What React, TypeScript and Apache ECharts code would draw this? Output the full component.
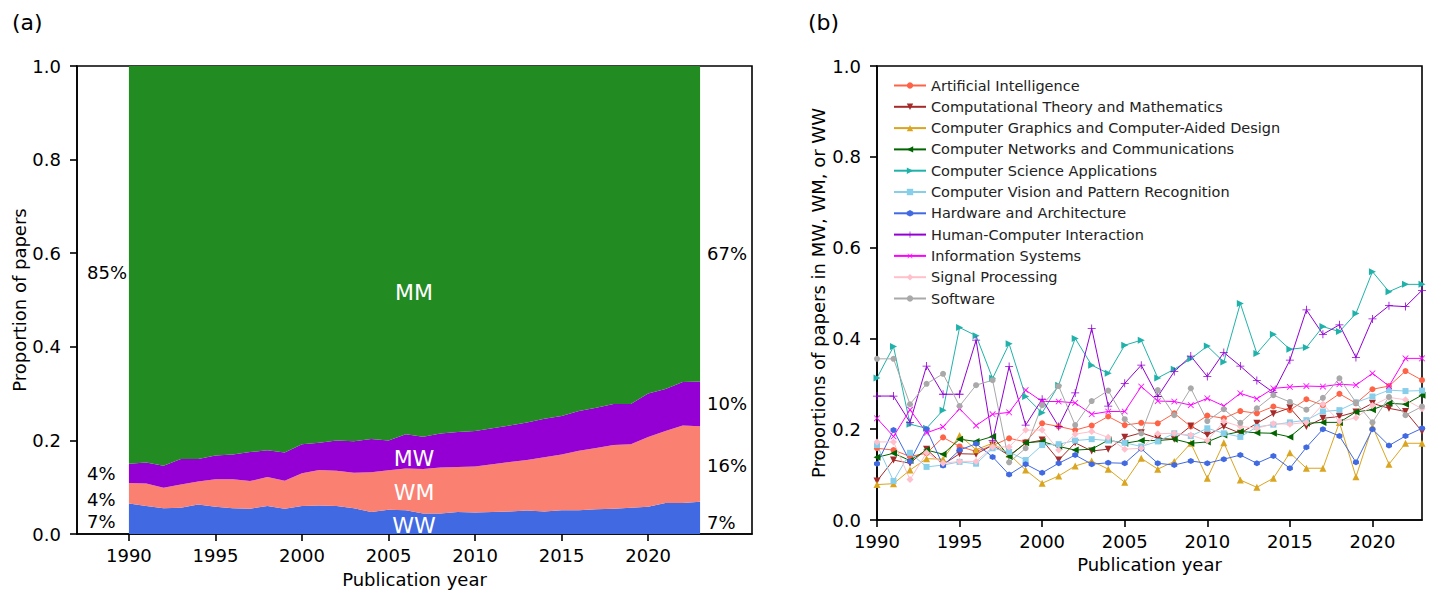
import React, { useEffect, useRef } from "react";
import * as echarts from "echarts";

const FONT = "DejaVu Sans";

const YEARS = [1990, 1991, 1992, 1993, 1994, 1995, 1996, 1997, 1998, 1999, 2000, 2001, 2002, 2003, 2004, 2005, 2006,
  2007, 2008, 2009, 2010, 2011, 2012, 2013, 2014, 2015, 2016, 2017, 2018, 2019, 2020, 2021, 2022, 2023];

// axis range of panel (a), years shown along its x axis (with blank margins)
const LEFT_AXIS_YEARS = [1987, 1988, 1989, ...YEARS, 2024, 2025, 2026];

const X_TICKS = [1990, 1995, 2000, 2005, 2010, 2015, 2020];

// Panel (a): shares of papers by author gender pair
const WW = [0.065, 0.06, 0.055, 0.056, 0.063, 0.058, 0.055, 0.054, 0.06, 0.054, 0.06, 0.061, 0.06, 0.055, 0.047, 0.052, 0.051,
  0.044, 0.044, 0.047, 0.046, 0.047, 0.048, 0.05, 0.048, 0.051, 0.051, 0.053, 0.054, 0.056, 0.058, 0.066, 0.066, 0.069];
const WM = [0.044, 0.048, 0.044, 0.05, 0.049, 0.059, 0.062, 0.059, 0.062, 0.06, 0.07, 0.076, 0.075, 0.076, 0.085, 0.084, 0.089,
  0.095, 0.098, 0.096, 0.098, 0.102, 0.106, 0.108, 0.116, 0.119, 0.127, 0.131, 0.136, 0.136, 0.149, 0.154, 0.166, 0.161];
const MW = [0.041, 0.045, 0.047, 0.054, 0.048, 0.051, 0.053, 0.062, 0.057, 0.06, 0.062, 0.058, 0.065, 0.067, 0.071, 0.064, 0.073,
  0.069, 0.073, 0.075, 0.076, 0.077, 0.078, 0.08, 0.082, 0.082, 0.085, 0.086, 0.088, 0.086, 0.093, 0.09, 0.093, 0.096];
const MM = [0.85, 0.847, 0.854, 0.84, 0.84, 0.832, 0.83, 0.825, 0.821, 0.826, 0.808, 0.805, 0.8, 0.802, 0.797, 0.8, 0.787,
  0.792, 0.785, 0.782, 0.78, 0.774, 0.768, 0.762, 0.754, 0.748, 0.737, 0.73, 0.722, 0.722, 0.7, 0.69, 0.675, 0.674];

// Panel (b): proportion of papers in MW, WM or WW per field
const AI = [0.158, 0.154, 0.14, 0.147, 0.182, 0.162, 0.151, 0.164, 0.18, 0.172, 0.213, 0.206, 0.198, 0.208, 0.228, 0.209, 0.214,
  0.213, 0.235, 0.206, 0.23, 0.224, 0.24, 0.235, 0.25, 0.242, 0.266, 0.253, 0.278, 0.257, 0.288, 0.295, 0.328, 0.308];
const CTM = [0.086, 0.132, 0.125, 0.156, 0.122, 0.146, 0.145, 0.165, 0.142, 0.169, 0.176, 0.132, 0.17, 0.152, 0.156, 0.182, 0.192,
  0.18, 0.178, 0.207, 0.187, 0.206, 0.191, 0.213, 0.234, 0.247, 0.206, 0.224, 0.228, 0.238, 0.257, 0.246, 0.239, 0.195];
const CGCAD = [0.078, 0.08, 0.11, 0.135, 0.134, 0.186, 0.155, 0.169, 0.145, 0.11, 0.081, 0.097, 0.119, 0.13, 0.112, 0.083, 0.136,
  0.112, 0.129, 0.169, 0.092, 0.17, 0.088, 0.072, 0.092, 0.148, 0.114, 0.114, 0.215, 0.095, 0.206, 0.123, 0.169, 0.169];
const CNC = [0.138, 0.147, 0.131, 0.154, 0.145, 0.178, 0.173, 0.184, 0.14, 0.17, 0.173, 0.162, 0.154, 0.156, 0.176, 0.169, 0.175,
  0.175, 0.178, 0.169, 0.172, 0.187, 0.195, 0.192, 0.191, 0.183, 0.213, 0.215, 0.215, 0.238, 0.243, 0.257, 0.255, 0.275];
const CSA = [0.313, 0.382, 0.211, 0.202, 0.242, 0.424, 0.406, 0.312, 0.388, 0.272, 0.236, 0.297, 0.4, 0.341, 0.323, 0.385, 0.396,
  0.313, 0.332, 0.355, 0.383, 0.348, 0.477, 0.367, 0.409, 0.376, 0.38, 0.426, 0.415, 0.455, 0.547, 0.503, 0.519, 0.519];
const CVPR = [0.165, 0.086, 0.148, 0.117, 0.121, 0.128, 0.124, 0.158, 0.15, 0.132, 0.165, 0.167, 0.175, 0.178, 0.175, 0.17, 0.162,
  0.173, 0.191, 0.185, 0.202, 0.191, 0.183, 0.205, 0.21, 0.215, 0.22, 0.239, 0.242, 0.259, 0.272, 0.286, 0.284, 0.285];
const HA = [0.124, 0.198, 0.129, 0.2, 0.12, 0.154, 0.168, 0.139, 0.1, 0.123, 0.104, 0.125, 0.143, 0.123, 0.126, 0.125, 0.157,
  0.125, 0.121, 0.13, 0.125, 0.134, 0.143, 0.125, 0.141, 0.114, 0.16, 0.2, 0.185, 0.127, 0.2, 0.164, 0.185, 0.202];
const HCI = [0.273, 0.273, 0.215, 0.339, 0.277, 0.277, 0.396, 0.175, 0.338, 0.209, 0.266, 0.206, 0.28, 0.422, 0.251, 0.301, 0.341,
  0.272, 0.327, 0.361, 0.316, 0.369, 0.339, 0.307, 0.281, 0.352, 0.463, 0.409, 0.43, 0.358, 0.443, 0.472, 0.47, 0.506];
const IS = [0.224, 0.184, 0.243, 0.192, 0.205, 0.245, 0.208, 0.233, 0.237, 0.286, 0.261, 0.261, 0.258, 0.233, 0.239, 0.239, 0.294,
  0.262, 0.261, 0.253, 0.268, 0.251, 0.279, 0.267, 0.29, 0.293, 0.295, 0.294, 0.299, 0.297, 0.323, 0.295, 0.356, 0.356];
const SP = [0.172, 0.172, 0.089, 0.148, 0.125, 0.129, 0.129, 0.161, 0.161, 0.198, 0.198, 0.154, 0.189, 0.195, 0.182, 0.156, 0.158,
  0.19, 0.191, 0.187, 0.175, 0.217, 0.206, 0.202, 0.212, 0.211, 0.215, 0.255, 0.217, 0.225, 0.252, 0.27, 0.265, 0.245];
const SOFTWARE = [0.355, 0.355, 0.255, 0.3, 0.322, 0.251, 0.297, 0.308, 0.127, 0.158, 0.253, 0.295, 0.209, 0.262, 0.285, 0.222, 0.191,
  0.286, 0.231, 0.29, 0.218, 0.244, 0.214, 0.246, 0.275, 0.26, 0.243, 0.269, 0.312, 0.259, 0.215, 0.271, 0.231, 0.25];

const HEX = "path://M0,-1L0.866,-0.5L0.866,0.5L0,1L-0.866,0.5L-0.866,-0.5Z";
const PLUS = "path://M-0.1,-1H0.1V-0.1H1V0.1H0.1V1H-0.1V0.1H-1V-0.1H-0.1Z";

const FIELDS = [
  { name: "Artificial Intelligence", values: AI, color: "#FF6347", symbol: "circle", rot: 0, size: 6 },
  { name: "Computational Theory and Mathematics", values: CTM, color: "#A52A2A", symbol: "triangle", rot: 180, size: 7 },
  { name: "Computer Graphics and Computer-Aided Design", values: CGCAD, color: "#DAA520", symbol: "triangle", rot: 0, size: 7 },
  { name: "Computer Networks and Communications", values: CNC, color: "#006400", symbol: "triangle", rot: 90, size: 7 },
  { name: "Computer Science Applications", values: CSA, color: "#20B2AA", symbol: "triangle", rot: -90, size: 7 },
  { name: "Computer Vision and Pattern Recognition", values: CVPR, color: "#87CEEB", symbol: "rect", rot: 0, size: 6 },
  { name: "Hardware and Architecture", values: HA, color: "#4169E1", symbol: HEX, rot: 0, size: 6 },
  { name: "Human-Computer Interaction", values: HCI, color: "#9400D3", symbol: PLUS, rot: 0, size: 8 },
  { name: "Information Systems", values: IS, color: "#FF00FF", symbol: PLUS, rot: 45, size: 8 },
  { name: "Signal Processing", values: SP, color: "#FFC0CB", symbol: "diamond", rot: 0, size: 7 },
  { name: "Software", values: SOFTWARE, color: "#A9A9A9", symbol: "circle", rot: 0, size: 6 },
];

const STACK = [
  { name: "WW", values: WW, color: "#4169E1" },
  { name: "WM", values: WM, color: "#FA8072" },
  { name: "MW", values: MW, color: "#9400D3" },
  { name: "MM", values: MM, color: "#228B22" },
];

const LEFT_ANN = [
  { text: "85%", y: 272 },
  { text: "4%", y: 473 },
  { text: "4%", y: 499 },
  { text: "7%", y: 521 },
];
const RIGHT_ANN = [
  { text: "67%", y: 253 },
  { text: "10%", y: 403 },
  { text: "16%", y: 465 },
  { text: "7%", y: 522 },
];
const INNER_ANN = [
  { text: "MM", y: 292 },
  { text: "MW", y: 458 },
  { text: "WM", y: 492 },
  { text: "WW", y: 525 },
];

const pairs = (vals: number[]) => YEARS.map((y, i) => [y, vals[i]]);
const catPairs = (vals: number[]) => YEARS.map((y, i) => [String(y), vals[i]]);

const axisLine = { show: true, onZero: false, lineStyle: { color: "#000", width: 1.6 } };
const axisTick = { show: true, inside: false, length: 7, lineStyle: { color: "#000", width: 1.6 } };
const labelStyle = { color: "#000", fontSize: 18, fontFamily: FONT };
const isTickYear = (_i: number, v: string) => X_TICKS.indexOf(Number(v)) >= 0;

export default function App() {
  const ref = useRef<HTMLDivElement>(null);

  useEffect(() => {
    document.body.style.margin = "0";
    if (!ref.current) return;
    const chart = echarts.init(ref.current, undefined, { renderer: "svg" });

    const textEl = (text: string, x: number, y: number, size: number, fill: string, align = "left") => ({
      type: "text",
      x,
      y,
      silent: true,
      z: 100,
      style: { text, fill, fontSize: size, fontFamily: FONT, align, verticalAlign: "middle" },
    });

    const option: any = {
      animation: false,
      backgroundColor: "#fff",
      grid: [
        { left: 77, top: 66, width: 675, height: 468, show: true, borderColor: "#000", borderWidth: 1.6, backgroundColor: "transparent" },
        { left: 877, top: 66, width: 545, height: 454, show: true, borderColor: "#000", borderWidth: 1.6, backgroundColor: "transparent" },
      ],
      xAxis: [
        {
          type: "category", gridIndex: 0, data: LEFT_AXIS_YEARS.map(String), boundaryGap: false,
          axisLine, splitLine: { show: false },
          axisTick: { ...axisTick, interval: isTickYear },
          axisLabel: { ...labelStyle, margin: 12, interval: isTickYear },
          name: "Publication year", nameLocation: "middle", nameGap: 36,
          nameTextStyle: { color: "#000", fontSize: 18, fontFamily: FONT },
        },
        {
          type: "value", gridIndex: 1, min: 1990, max: 2023, interval: 5,
          axisLine, splitLine: { show: false }, axisTick,
          axisLabel: { ...labelStyle, margin: 12, showMaxLabel: false, formatter: (v: number) => String(v) },
          name: "Publication year", nameLocation: "middle", nameGap: 35,
          nameTextStyle: { color: "#000", fontSize: 18, fontFamily: FONT },
        },
      ],
      yAxis: [
        {
          type: "value", gridIndex: 0, min: 0, max: 1, interval: 0.2,
          axisLine, axisTick, splitLine: { show: false },
          axisLabel: { ...labelStyle, margin: 16, formatter: (v: number) => v.toFixed(1) },
          name: "Proportion of papers", nameLocation: "middle", nameGap: 48,
          nameTextStyle: { color: "#000", fontSize: 18, fontFamily: FONT },
        },
        {
          type: "value", gridIndex: 1, min: 0, max: 1, interval: 0.2,
          axisLine, axisTick, splitLine: { show: false },
          axisLabel: { ...labelStyle, margin: 16, formatter: (v: number) => v.toFixed(1) },
          name: "Proportions of papers in MW, WM, or WW", nameLocation: "middle", nameGap: 50,
          nameTextStyle: { color: "#000", fontSize: 18, fontFamily: FONT },
        },
      ],
      legend: {
        orient: "vertical",
        left: 893,
        top: 78,
        itemWidth: 32,
        itemHeight: 8,
        itemGap: 6.3,
        padding: 0,
        data: FIELDS.map((f) => f.name),
        textStyle: { color: "#222", fontSize: 14.5, fontFamily: FONT, lineHeight: 14 },
      },
      series: [
        ...STACK.map((s) => ({
          type: "line",
          name: s.name,
          xAxisIndex: 0,
          yAxisIndex: 0,
          stack: "total",
          data: catPairs(s.values),
          showSymbol: false,
          symbol: "none",
          lineStyle: { width: 0 },
          areaStyle: { color: s.color, opacity: 1 },
          itemStyle: { color: s.color },
          silent: true,
        })),
        ...FIELDS.map((f) => ({
          type: "line",
          name: f.name,
          xAxisIndex: 1,
          yAxisIndex: 1,
          data: pairs(f.values),
          symbol: f.symbol,
          symbolSize: f.size,
          symbolRotate: f.rot,
          showSymbol: true,
          lineStyle: { width: 1, color: f.color },
          itemStyle: { color: f.color, borderWidth: 0 },
          emphasis: { disabled: true },
        })),
      ],
      graphic: [
        textEl("(a)", 12, 22, 22, "#000"),
        textEl("(b)", 808, 22, 22, "#000"),
        ...LEFT_ANN.map((a) => textEl(a.text, 87, a.y, 18, "#000")),
        ...RIGHT_ANN.map((a) => textEl(a.text, 707, a.y, 18, "#000")),
        ...INNER_ANN.map((a) => textEl(a.text, 414, a.y, 22, "#fff", "center")),
      ],
    };

    chart.setOption(option);
    return () => chart.dispose();
  }, []);

  return <div ref={ref} style={{ width: 1432, height: 599 }} />;
}
